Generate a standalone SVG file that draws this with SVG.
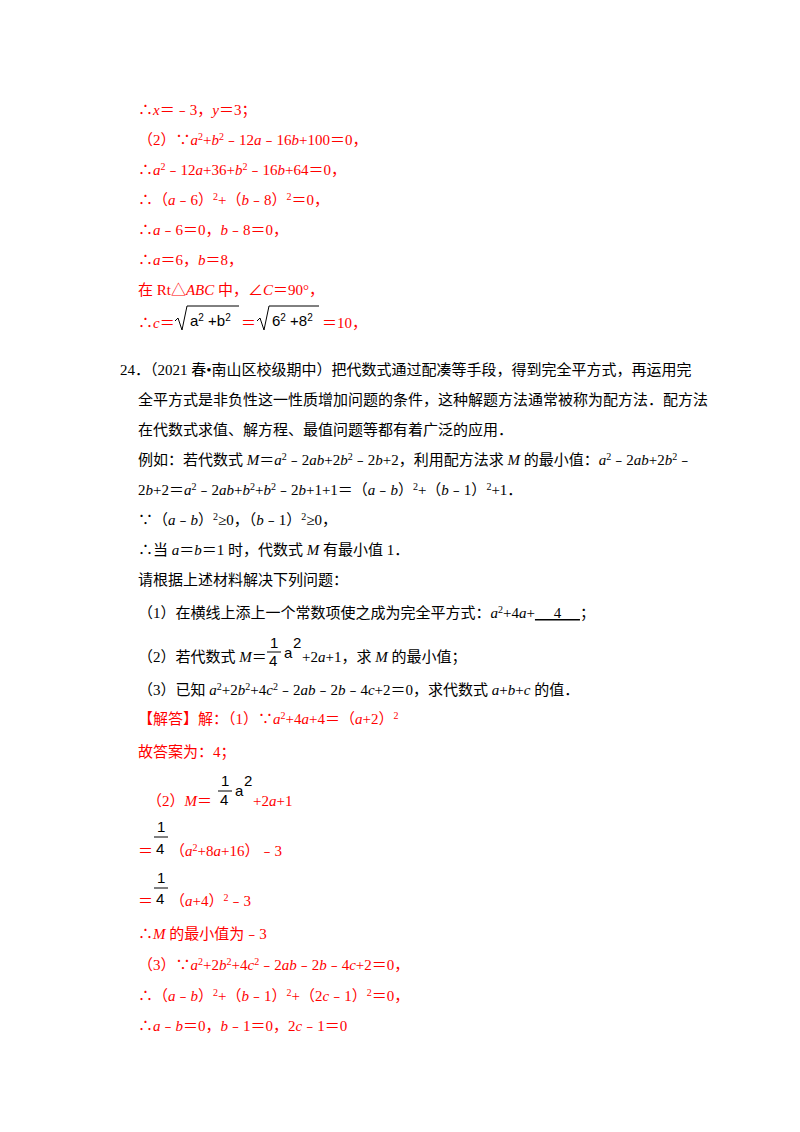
<svg xmlns="http://www.w3.org/2000/svg" width="800" height="1132" viewBox="0 0 800 1132">
<style>
text{font-family:"Liberation Serif","Noto Sans CJK SC",serif;font-size:15px;fill:#000}
.r{fill:#f00}
.i{font-style:italic}
.s{font-size:10px;baseline-shift:super}
.f{font-family:"Liberation Sans","Noto Sans CJK SC",sans-serif}
.u{text-decoration:underline}
line{stroke:#000;stroke-width:1}
</style>
<rect width="800" height="1132" fill="#fff"/>
<g class="r">
<text x="138" y="115" class="r">∴<tspan class="i">x</tspan>＝﹣3，<tspan class="i">y</tspan>＝3；</text>
<text x="138" y="145" class="r">（2）∵<tspan class="i">a</tspan><tspan class="s">2</tspan>+<tspan class="i">b</tspan><tspan class="s">2</tspan>﹣12<tspan class="i">a</tspan>﹣16<tspan class="i">b</tspan>+100＝0，</text>
<text x="138" y="175" class="r">∴<tspan class="i">a</tspan><tspan class="s">2</tspan>﹣12<tspan class="i">a</tspan>+36+<tspan class="i">b</tspan><tspan class="s">2</tspan>﹣16<tspan class="i">b</tspan>+64＝0，</text>
<text x="138" y="205" class="r">∴（<tspan class="i">a</tspan>﹣6）<tspan class="s">2</tspan>+（<tspan class="i">b</tspan>﹣8）<tspan class="s">2</tspan>＝0，</text>
<text x="138" y="235" class="r">∴<tspan class="i">a</tspan>﹣6＝0，<tspan class="i">b</tspan>﹣8＝0，</text>
<text x="138" y="265" class="r">∴<tspan class="i">a</tspan>＝6，<tspan class="i">b</tspan>＝8，</text>
<text x="138" y="295" class="r">在 Rt△<tspan class="i">ABC</tspan> 中，∠<tspan class="i">C</tspan>＝90°，</text>
<text x="138" y="328" class="r">∴<tspan class="i">c</tspan>＝</text>
<path d="M175 321 l3 -3 l4 12 l5 -24 h52" fill="none" stroke="#000" stroke-width="1"/>
<text x="190" y="326" class="f" font-size="14">a<tspan class="s" font-size="10">2</tspan> +b<tspan class="s" font-size="10">2</tspan></text>
<text x="241" y="328" class="r">＝</text>
<path d="M257 321 l3 -3 l4 12 l5 -24 h50" fill="none" stroke="#000" stroke-width="1"/>
<text x="272" y="326" class="f" font-size="14">6<tspan class="s" font-size="10">2</tspan> +8<tspan class="s" font-size="10">2</tspan></text>
<text x="322" y="328" class="r">＝10，</text>
</g>
<g>
<text x="120" y="375">24．（2021 春•南山区校级期中）把代数式通过配凑等手段，得到完全平方式，再运用完</text>
<text x="138" y="405">全平方式是非负性这一性质增加问题的条件，这种解题方法通常被称为配方法．配方法</text>
<text x="138" y="435">在代数式求值、解方程、最值问题等都有着广泛的应用．</text>
<text x="138" y="465">例如：若代数式 <tspan class="i">M</tspan>＝<tspan class="i">a</tspan><tspan class="s">2</tspan>﹣2<tspan class="i">ab</tspan>+2<tspan class="i">b</tspan><tspan class="s">2</tspan>﹣2<tspan class="i">b</tspan>+2，利用配方法求 <tspan class="i">M</tspan> 的最小值：<tspan class="i">a</tspan><tspan class="s">2</tspan>﹣2<tspan class="i">ab</tspan>+2<tspan class="i">b</tspan><tspan class="s">2</tspan>﹣</text>
<text x="138" y="495">2<tspan class="i">b</tspan>+2＝<tspan class="i">a</tspan><tspan class="s">2</tspan>﹣2<tspan class="i">ab</tspan>+<tspan class="i">b</tspan><tspan class="s">2</tspan>+<tspan class="i">b</tspan><tspan class="s">2</tspan>﹣2<tspan class="i">b</tspan>+1+1＝（<tspan class="i">a</tspan>﹣<tspan class="i">b</tspan>）<tspan class="s">2</tspan>+（<tspan class="i">b</tspan>﹣1）<tspan class="s">2</tspan>+1．</text>
<text x="138" y="525">∵（<tspan class="i">a</tspan>﹣<tspan class="i">b</tspan>）<tspan class="s">2</tspan>≥0，（<tspan class="i">b</tspan>﹣1）<tspan class="s">2</tspan>≥0，</text>
<text x="138" y="555">∴当 <tspan class="i">a</tspan>＝<tspan class="i">b</tspan>＝1 时，代数式 <tspan class="i">M</tspan> 有最小值 1．</text>
<text x="138" y="585">请根据上述材料解决下列问题：</text>
<text x="138" y="618">（1）在横线上添上一个常数项使之成为完全平方式：<tspan class="i">a</tspan><tspan class="s">2</tspan>+4<tspan class="i">a</tspan>+<tspan class="u">&#160;&#160;&#160;&#160;&#160;4&#160;&#160;&#160;&#160;&#160;</tspan>；</text>
<text x="138" y="662">（2）若代数式 <tspan class="i">M</tspan>＝</text>
<text x="270" y="648" class="f" font-size="16">1</text>
<line x1="267" y1="652" x2="281" y2="652"/>
<text x="269" y="666" class="f" font-size="14">4</text>
<text x="284" y="658" class="f" font-size="13">a</text>
<text x="293" y="648" class="f" font-size="13">2</text>
<text x="302" y="662">+2<tspan class="i">a</tspan>+1，求 <tspan class="i">M</tspan> 的最小值；</text>
<text x="138" y="695">（3）已知 <tspan class="i">a</tspan><tspan class="s">2</tspan>+2<tspan class="i">b</tspan><tspan class="s">2</tspan>+4<tspan class="i">c</tspan><tspan class="s">2</tspan>﹣2<tspan class="i">ab</tspan>﹣2<tspan class="i">b</tspan>﹣4<tspan class="i">c</tspan>+2＝0，求代数式 <tspan class="i">a</tspan>+<tspan class="i">b</tspan>+<tspan class="i">c</tspan> 的值．</text>
</g>
<g>
<text x="138" y="724" class="r">【解答】解：（1）∵<tspan class="i">a</tspan><tspan class="s">2</tspan>+4<tspan class="i">a</tspan>+4＝（<tspan class="i">a</tspan>+2）<tspan class="s">2</tspan></text>
<text x="138" y="757" class="r">故答案为：4；</text>
<text x="147" y="806" class="r">（2）<tspan class="i">M</tspan>＝</text>
<text x="221" y="786" class="f" font-size="16">1</text>
<line x1="218" y1="791" x2="232" y2="791"/>
<text x="220" y="805" class="f" font-size="14">4</text>
<text x="235" y="796" class="f" font-size="13">a</text>
<text x="244" y="786" class="f" font-size="13">2</text>
<text x="253" y="806" class="r">+2<tspan class="i">a</tspan>+1</text>
<text x="138" y="856" class="r">＝</text>
<text x="157" y="832" class="f" font-size="16">1</text>
<line x1="154" y1="837" x2="168" y2="837"/>
<text x="156" y="854" class="f" font-size="14">4</text>
<text x="170" y="856" class="r">（<tspan class="i">a</tspan><tspan class="s">2</tspan>+8<tspan class="i">a</tspan>+16）﹣3</text>
<text x="138" y="906" class="r">＝</text>
<text x="157" y="883" class="f" font-size="16">1</text>
<line x1="154" y1="888" x2="168" y2="888"/>
<text x="156" y="904" class="f" font-size="14">4</text>
<text x="170" y="906" class="r">（<tspan class="i">a</tspan>+4）<tspan class="s">2</tspan>﹣3</text>
<text x="138" y="939" class="r">∴<tspan class="i">M</tspan> 的最小值为﹣3</text>
<text x="138" y="970" class="r">（3）∵<tspan class="i">a</tspan><tspan class="s">2</tspan>+2<tspan class="i">b</tspan><tspan class="s">2</tspan>+4<tspan class="i">c</tspan><tspan class="s">2</tspan>﹣2<tspan class="i">ab</tspan>﹣2<tspan class="i">b</tspan>﹣4<tspan class="i">c</tspan>+2＝0，</text>
<text x="138" y="1001" class="r">∴（<tspan class="i">a</tspan>﹣<tspan class="i">b</tspan>）<tspan class="s">2</tspan>+（<tspan class="i">b</tspan>﹣1）<tspan class="s">2</tspan>+（2<tspan class="i">c</tspan>﹣1）<tspan class="s">2</tspan>＝0，</text>
<text x="138" y="1031" class="r">∴<tspan class="i">a</tspan>﹣<tspan class="i">b</tspan>＝0，<tspan class="i">b</tspan>﹣1＝0，2<tspan class="i">c</tspan>﹣1＝0</text>
</g>
</svg>
